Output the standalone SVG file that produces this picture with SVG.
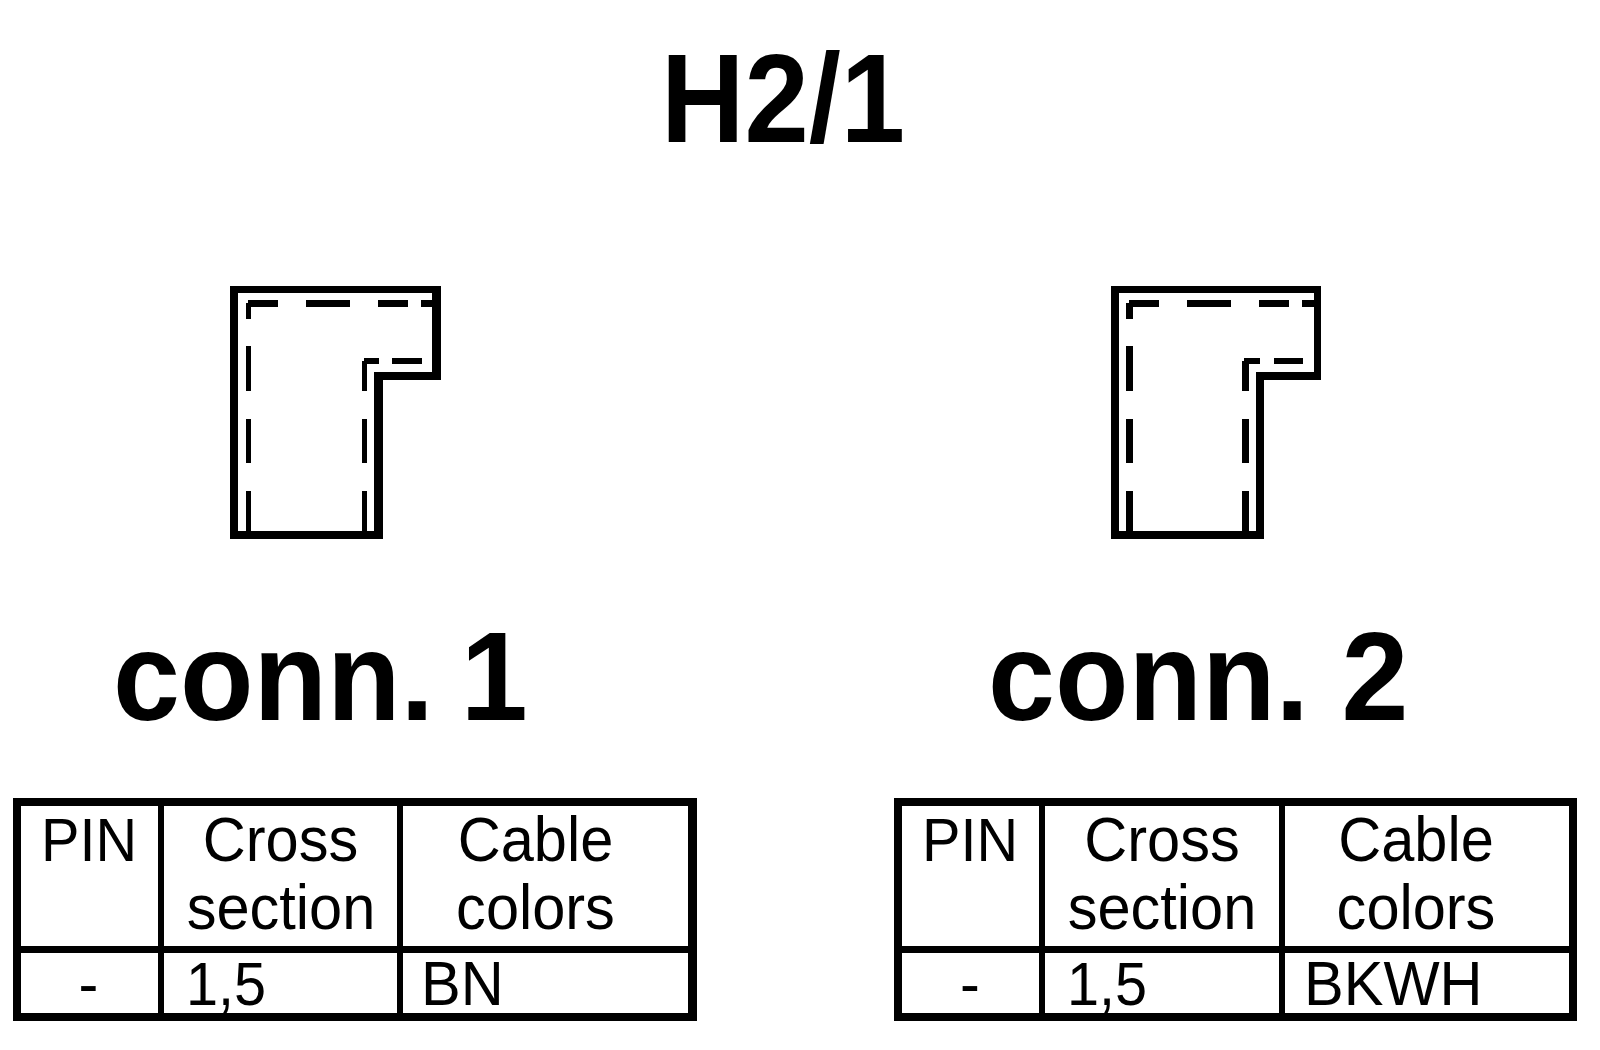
<svg xmlns="http://www.w3.org/2000/svg" width="1600" height="1050" viewBox="0 0 1600 1050">
<style>
text{font-family:"Liberation Sans",Arial,sans-serif;fill:#000}
.b{font-weight:700;font-size:127px}
.t{font-size:62px}
.m{text-anchor:middle}
.l{fill:#000;fill-rule:evenodd;shape-rendering:crispEdges}
</style>
<rect width="1600" height="1050" fill="#fff"/>
<g id="title"><text class="b" transform="translate(661 141.7) scale(.91 1)">H2/1</text></g>
<g id="connector-1-shape">
<path class="l" d="M230 286H441V380H383V539H230ZM238 293V531H374V372H432V293Z"/>
<path class="l" d="M248 300H278V307H251V319H246V303H248ZM306 300H350V307H306ZM378 300H408V307H378ZM421 300H432V307H421ZM246 346H251V391H246ZM246 419H251V463H246ZM246 491H251V531H246ZM364 358H379V364H367V391H362V361H364ZM392 358H422V364H392ZM362 419H367V463H362ZM362 491H367V531H362Z"/>
</g>
<g id="connector-2-shape">
<path class="l" d="M1111 286H1321V380H1264V539H1111ZM1119 293V531H1256V372H1314V293Z"/>
<path class="l" d="M1129 300H1159V307H1133V319H1126V303H1129ZM1187 300H1231V307H1187ZM1259 300H1289V307H1259ZM1302 300H1314V307H1302ZM1126 346H1133V391H1126ZM1126 419H1133V463H1126ZM1126 491H1133V531H1126ZM1244 358H1260V364H1249V391H1242V361H1244ZM1274 358H1303V364H1274ZM1242 419H1249V463H1242ZM1242 491H1249V531H1242Z"/>
</g>
<g id="conn-1-label"><text class="b" transform="translate(113 719.7) scale(.948 1)">conn. <tspan dx="-7">1</tspan></text></g>
<g id="conn-2-label"><text class="b" transform="translate(988 719.7) scale(.948 1)">conn. <tspan dx="-1">2</tspan></text></g>
<g id="table-1">
<path class="l" d="M13 798H697V1021H13ZM21 806V946H158V806ZM164 806V946H397V806ZM403 806V946H688V806ZM21 953V1013H158V953ZM164 953V1013H397V953ZM403 953V1013H688V953Z"/>
<text class="t" transform="translate(41 860.7) scale(.93 1)">PIN</text>
<text class="t m" transform="translate(280.5 860.7) scale(.96 1)">Cross</text>
<text class="t m" transform="translate(281 929) scale(.96 1)">section</text>
<text class="t m" transform="translate(535.5 860.7) scale(.96 1)">Cable</text>
<text class="t m" transform="translate(535.5 929) scale(.96 1)">colors</text>
<text class="t m" transform="translate(88.5 1005) scale(.96 1)">-</text>
<text class="t" transform="translate(186 1005) scale(.93 1)">1,5</text>
<text class="t" transform="translate(421 1005) scale(.96 1)">BN</text>
</g>
<g id="table-2">
<path class="l" d="M894 798H1577V1021H894ZM902 806V946H1039V806ZM1045 806V946H1279V806ZM1285 806V946H1569V806ZM902 953V1013H1039V953ZM1045 953V1013H1279V953ZM1285 953V1013H1569V953Z"/>
<text class="t" transform="translate(922 860.7) scale(.93 1)">PIN</text>
<text class="t m" transform="translate(1162 860.7) scale(.96 1)">Cross</text>
<text class="t m" transform="translate(1162 929) scale(.96 1)">section</text>
<text class="t m" transform="translate(1416 860.7) scale(.96 1)">Cable</text>
<text class="t m" transform="translate(1416 929) scale(.96 1)">colors</text>
<text class="t m" transform="translate(970 1005) scale(.96 1)">-</text>
<text class="t" transform="translate(1067 1005) scale(.93 1)">1,5</text>
<text class="t" transform="translate(1304 1005) scale(.96 1)">BKWH</text>
</g>
</svg>
